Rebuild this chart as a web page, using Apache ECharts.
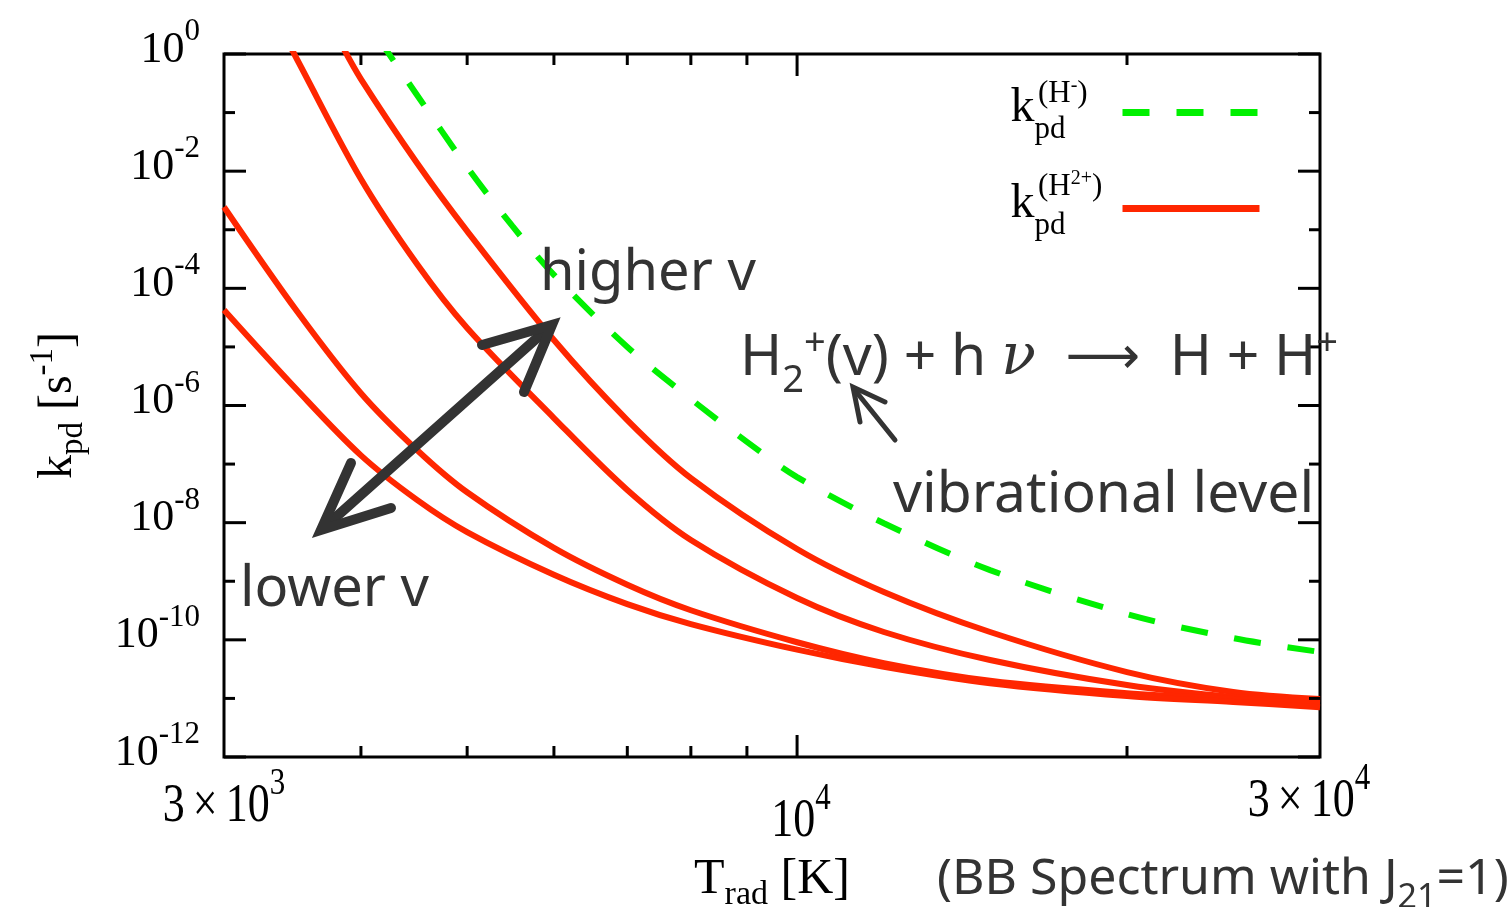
<!DOCTYPE html>
<html>
<head>
<meta charset="utf-8">
<title>k_pd vs T_rad</title>
<script src="https://cdn.jsdelivr.net/npm/echarts@6/dist/echarts.min.js"></script>
<style>
  html, body { margin: 0; padding: 0; background: #fff; }
  #chart { width: 1509px; height: 907px; }
</style>
</head>
<body>
<div id="chart"></div>
<script>
// Photodissociation rates under a BB spectrum (J21 = 1).
// T_rad in K, k_pd in 1/s.

// H- photodetachment (green, dashed)
const tempHm = [4150, 4243, 4500, 5000, 5500, 6000, 7000, 8000, 9000, 10000, 12000, 15000, 20000, 25000, 30000];
const rateHm = [1.86, 1.0, 2.0e-1, 1.17e-2, 1.15e-3, 1.70e-4, 1.0e-5, 1.29e-6, 2.4e-7, 6.0e-8, 9.8e-9, 1.55e-9, 2.75e-10, 1.07e-10, 6.2e-11];

// H2+ photodissociation, four vibrational levels (higher v -> lower v)
const tempV1 = [3850, 4000, 4500, 5000, 6000, 7000, 8000, 10000, 12000, 15000, 20000, 25000, 30000];
const rateV1 = [1.32, 3.74e-1, 1.38e-2, 9.5e-4, 1.31e-5, 5.65e-7, 5.78e-8, 3.55e-9, 6.55e-10, 1.36e-10, 2.82e-11, 1.29e-11, 9.8e-12];
const tempV2 = [3440, 3500, 4000, 4500, 5000, 6000, 7000, 8000, 10000, 12000, 15000, 20000, 25000, 30000];
const rateV2 = [1.48, 7.9e-1, 7.35e-3, 2.6e-4, 2.1e-5, 6.11e-7, 3.61e-8, 5.06e-9, 5.17e-10, 1.36e-10, 4.52e-11, 1.69e-11, 1.06e-11, 9.0e-12];
const tempV3 = [3000, 3500, 4000, 4500, 5000, 6000, 7000, 8000, 10000, 12000, 15000, 20000, 25000, 30000];
const rateV3 = [2.45e-3, 3.98e-5, 1.62e-6, 1.74e-7, 3.3e-8, 3.7e-9, 8.7e-10, 3.2e-10, 9.1e-11, 4.0e-11, 2.0e-11, 1.23e-11, 9.8e-12, 8.3e-12];
const tempV4 = [3000, 3500, 4000, 4500, 5000, 6000, 7000, 8000, 10000, 12000, 15000, 20000, 25000, 30000];
const rateV4 = [4.27e-5, 1.82e-6, 1.41e-7, 2.45e-8, 6.9e-9, 1.29e-9, 4.07e-10, 1.86e-10, 6.8e-11, 3.47e-11, 1.82e-11, 1.10e-11, 8.7e-12, 7.1e-12];

// axis ranges and ticks
const T_MIN = 3000, T_MAX = 30000;
const K_MIN = 1e-12, K_MAX = 1;
const xMajorTicks = [10000];
const xMinorTicks = [4000, 5000, 6000, 7000, 8000, 9000, 20000];
const yMajorTicks = [1, 1e-2, 1e-4, 1e-6, 1e-8, 1e-10, 1e-12];
const yMinorTicks = [1e-1, 1e-3, 1e-5, 1e-7, 1e-9, 1e-11];

// tick labels
const xLabelValues = [3000, 10000, 30000];
const xLabelMantissa = ['3', '', '3'];
const xLabelExp = ['3', '4', '4'];
const yLabelValues = [1, 1e-2, 1e-4, 1e-6, 1e-8, 1e-10, 1e-12];
const yLabelExp = ['0', '-2', '-4', '-6', '-8', '-10', '-12'];

// legend entries
const legendNames = ['H-', 'H2+'];
const legendSup = ['-', '2+'];

const SERIF = "'Liberation Serif', 'Times New Roman', serif";
const SANS = "'Noto Sans', 'DejaVu Sans', sans-serif";
const INK = '#333333';
const RED = '#ff2600';
const GREEN = '#00f000';

// label nudges (px) to follow the original placement; x labels are drawn a bit tall
const xLabelShift = [[0, 22], [4, 37], [-11, 17]];
const X_LABEL_STRETCH = 1.25;

function pairs(ts, ks) {
    return ts.map((t, i) => [t, ks[i]]);
}

const tickStyle = { stroke: '#000', lineWidth: 3 };

function xTickSeries(values, len) {
    return {
        type: 'custom',
        silent: true,
        z: 5,
        data: values.map(v => [v, K_MIN]),
        renderItem: function (params, api) {
            const t = api.value(0);
            const bot = api.coord([t, K_MIN]);
            const top = api.coord([t, K_MAX]);
            return {
                type: 'group',
                children: [
                    { type: 'line', shape: { x1: bot[0], y1: bot[1], x2: bot[0], y2: bot[1] - len }, style: tickStyle },
                    { type: 'line', shape: { x1: top[0], y1: top[1], x2: top[0], y2: top[1] + len }, style: tickStyle }
                ]
            };
        }
    };
}

function yTickSeries(values, len) {
    return {
        type: 'custom',
        silent: true,
        z: 5,
        data: values.map(v => [T_MIN, v]),
        renderItem: function (params, api) {
            const k = api.value(1);
            const l = api.coord([T_MIN, k]);
            const r = api.coord([T_MAX, k]);
            return {
                type: 'group',
                children: [
                    { type: 'line', shape: { x1: l[0], y1: l[1], x2: l[0] + len, y2: l[1] }, style: tickStyle },
                    { type: 'line', shape: { x1: r[0], y1: r[1], x2: r[0] - len, y2: r[1] }, style: tickStyle }
                ]
            };
        }
    };
}

const tickRich = {
    b: { fontFamily: SERIF, fontSize: 44, lineHeight: 44, fill: '#000' },
    g: { fontFamily: SERIF, fontSize: 44, lineHeight: 44, padding: [0, 8, 0, 8], fill: '#000' },
    s: { fontFamily: SERIF, fontSize: 31, lineHeight: 31, padding: [0, 0, 36, 0], fill: '#000' }
};

const xLabelSeries = {
    type: 'custom',
    silent: true,
    data: xLabelValues.map(v => [v, K_MIN]),
    renderItem: function (params, api) {
        const i = params.dataIndex;
        const p = api.coord([api.value(0), K_MIN]);
        const m = xLabelMantissa[i];
        const text = (m ? '{b|' + m + '}{g|×}' : '') + '{b|10}{s|' + xLabelExp[i] + '}';
        return {
            type: 'text',
            x: p[0] + xLabelShift[i][0],
            y: p[1] + xLabelShift[i][1],
            scaleY: X_LABEL_STRETCH,
            style: { text: text, rich: tickRich, align: 'center', verticalAlign: 'top' }
        };
    }
};

const yLabelSeries = {
    type: 'custom',
    silent: true,
    data: yLabelValues.map(v => [T_MIN, v]),
    renderItem: function (params, api) {
        const i = params.dataIndex;
        const p = api.coord([T_MIN, api.value(1)]);
        return {
            type: 'text',
            x: p[0] - 24,
            y: p[1] - 4,
            style: { text: '{b|10}{s|' + yLabelExp[i] + '}', rich: tickRich, align: 'right', verticalAlign: 'middle' }
        };
    }
};

function redLine(ts, ks) {
    return {
        name: 'H2+',
        type: 'line',
        data: pairs(ts, ks),
        symbol: 'none',
        smooth: 0.33,
        z: 3,
        lineStyle: { color: RED, width: 6 },
        itemStyle: { color: RED }
    };
}

// superscripts "(H-)" / "(H2+)" stacked over the legend's k_pd
function legendSupText(i, y) {
    return {
        type: 'text', x: 1038, y: y, z: 10,
        style: {
            text: '{p|(H}{s|' + legendSup[i] + '}{p|)}',
            verticalAlign: 'middle',
            rich: {
                p: { fontFamily: SERIF, fontSize: 31, fill: '#000' },
                s: { fontFamily: SERIF, fontSize: 20, fill: '#000', padding: [0, 0, 16, 0] }
            }
        }
    };
}

const chart = echarts.init(document.getElementById('chart'));

const option = {
    animation: false,
    backgroundColor: '#fff',
    grid: {
        left: 224, right: 189, top: 54, bottom: 150,
        outerBoundsMode: 'none',
        containLabel: false,
        show: true, borderColor: '#000', borderWidth: 3, backgroundColor: 'transparent'
    },
    xAxis: {
        type: 'log', logBase: 10, min: T_MIN, max: T_MAX,
        axisLine: { show: false }, axisTick: { show: false },
        axisLabel: { show: false }, splitLine: { show: false },
        name: '{t|T}{sub|rad}{t| [K]}',
        nameLocation: 'middle',
        nameGap: 91,
        nameTextStyle: {
            rich: {
                t: { fontFamily: SERIF, fontSize: 50, color: '#000' },
                sub: { fontFamily: SERIF, fontSize: 34, color: '#000', padding: [30, 0, 0, 0] }
            }
        }
    },
    yAxis: {
        type: 'log', logBase: 10, min: K_MIN, max: K_MAX,
        axisLine: { show: false }, axisTick: { show: false },
        axisLabel: { show: false }, splitLine: { show: false },
        name: '{t|k}{sub|pd}{t| [s}{sup|-1}{t|]}',
        nameLocation: 'middle',
        nameRotate: 90,
        nameGap: 134,
        nameTextStyle: {
            rich: {
                t: { fontFamily: SERIF, fontSize: 48, color: '#000' },
                sub: { fontFamily: SERIF, fontSize: 33, color: '#000', padding: [30, 0, 0, 0] },
                sup: { fontFamily: SERIF, fontSize: 33, color: '#000', padding: [0, 0, 30, 0] }
            }
        }
    },
    legend: {
        data: legendNames,
        orient: 'vertical',
        right: 246,
        top: 80,
        padding: 0,
        align: 'right',
        itemWidth: 137,
        itemHeight: 8,
        itemGap: 31,
        selectedMode: false,
        lineStyle: { width: 7 },
        formatter: function () {
            return '{k|k}{sub|pd}';
        },
        textStyle: {
            color: '#000',
            width: 107,
            rich: {
                k: { fontFamily: SERIF, fontSize: 48, lineHeight: 48, padding: [0, 0, 8, 0], align: 'left', color: '#000' },
                sub: { fontFamily: SERIF, fontSize: 31, lineHeight: 31, padding: [34, 0, 0, 0], align: 'left', color: '#000' }
            }
        }
    },
    graphic: [
        legendSupText(0, 94),
        legendSupText(1, 187),
        {
            type: 'text', x: 540, y: 274, z: 10,
            style: { text: 'higher v', fill: INK, fontFamily: SANS, fontSize: 56, verticalAlign: 'middle' }
        },
        {
            type: 'text', x: 240, y: 590, z: 10,
            style: { text: 'lower v', fill: INK, fontFamily: SANS, fontSize: 56, verticalAlign: 'middle' }
        },
        {
            type: 'text', x: 893, y: 496, z: 10,
            style: { text: 'vibrational level', fill: INK, fontFamily: SANS, fontSize: 57, verticalAlign: 'middle' }
        },
        {
            type: 'text', x: 740, y: 359, z: 10,
            style: {
                text: '{t|H}{sub|2}{sup|+}{t|(v) + h }{nu|ν}{t|  }{ar|⟶}{t|  H + H}{sup|+}',
                verticalAlign: 'middle',
                rich: {
                    t: { fontFamily: SANS, fontSize: 57, fill: INK },
                    sub: { fontFamily: SANS, fontSize: 38, fill: INK, padding: [44, 0, 0, 0] },
                    sup: { fontFamily: SANS, fontSize: 38, fill: INK, padding: [0, 0, 30, 0] },
                    nu: { fontFamily: "'DejaVu Serif', serif", fontStyle: 'italic', fontSize: 57, fill: INK },
                    ar: { fontFamily: "'DejaVu Sans', sans-serif", fontSize: 52, fill: INK }
                }
            }
        },
        {
            type: 'text', x: 937, y: 880, z: 10,
            style: {
                text: '{t|(BB Spectrum with J}{sub|21}{t|=1)}',
                verticalAlign: 'middle',
                rich: {
                    t: { fontFamily: SANS, fontSize: 50, fill: INK },
                    sub: { fontFamily: SANS, fontSize: 34, fill: INK, padding: [36, 0, 0, 0] }
                }
            }
        },
        // double arrow between "lower v" and "higher v"
        {
            type: 'polyline', z: 10,
            shape: { points: [[327, 525], [546, 330]] },
            style: { stroke: INK, lineWidth: 10, lineCap: 'round', fill: null }
        },
        {
            type: 'polyline', z: 10,
            shape: { points: [[482, 345], [552, 325], [524, 392]] },
            style: { stroke: INK, lineWidth: 10, lineCap: 'round', lineJoin: 'miter', fill: null }
        },
        {
            type: 'polyline', z: 10,
            shape: { points: [[351, 463], [321, 530], [391, 508]] },
            style: { stroke: INK, lineWidth: 10, lineCap: 'round', lineJoin: 'miter', fill: null }
        },
        // small arrow pointing at (v)
        {
            type: 'polyline', z: 10,
            shape: { points: [[895, 440], [854, 389]] },
            style: { stroke: INK, lineWidth: 5, lineCap: 'round', fill: null }
        },
        {
            type: 'polyline', z: 10,
            shape: { points: [[860, 422], [853, 387], [885, 402]] },
            style: { stroke: INK, lineWidth: 5, lineCap: 'round', lineJoin: 'miter', fill: null }
        }
    ],
    series: [
        {
            name: 'H-',
            type: 'line',
            data: pairs(tempHm, rateHm),
            symbol: 'none',
            smooth: 0.33,
            z: 3,
            lineStyle: { color: GREEN, width: 6, type: [27, 27] },
            itemStyle: { color: GREEN }
        },
        redLine(tempV1, rateV1),
        redLine(tempV2, rateV2),
        redLine(tempV3, rateV3),
        redLine(tempV4, rateV4),
        xTickSeries(xMajorTicks, 22),
        xTickSeries(xMinorTicks, 11),
        yTickSeries(yMajorTicks, 22),
        yTickSeries(yMinorTicks, 11),
        xLabelSeries,
        yLabelSeries
    ]
};

chart.setOption(option);

window.addEventListener('resize', function () {
    chart.resize();
});
</script>
</body>
</html>
